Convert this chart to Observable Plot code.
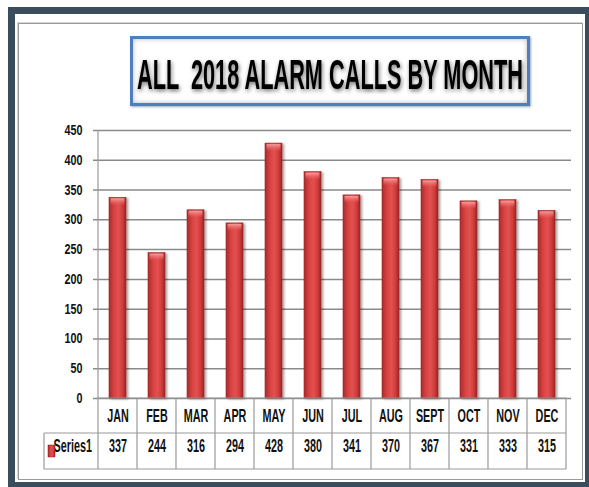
<!DOCTYPE html>
<html>
<head>
<meta charset="utf-8">
<script src="https://cdn.jsdelivr.net/npm/d3@7"></script>
<script src="https://cdn.jsdelivr.net/npm/@observablehq/plot@0.6"></script>
<style>
  html, body { margin: 0; padding: 0; background: #fff; }
  #wrap { position: relative; width: 589px; height: 487px; overflow: hidden; background: #fff; }
  #chart { position: absolute; left: 0; top: 0; }
  #frame { position: absolute; left: 8px; top: 7px; width: 584px; height: 482px; box-sizing: border-box;
           border: 7px solid #3b4c5c; pointer-events: none; }
  #inner { position: absolute; left: 18px; top: 23px; width: 565px; height: 457px; box-sizing: border-box;
           border: 1px solid #9a9a9a; box-shadow: -1px -1px 0 #d6d6d6; pointer-events: none; }
  #titlebox { position: absolute; left: 130px; top: 36px; width: 400px; height: 70px; box-sizing: border-box;
              border: 3px solid #4f7fbd; box-shadow: inset 0 0 5px #b8b8b8, 1px 1px 2px #9ab; background: #fff; }
  #titlebox svg { position: absolute; left: 0; top: 0; }
</style>
</head>
<body>
<div id="wrap">
  <div id="chart"></div>
  <div id="inner"></div>
  <div id="frame"></div>
  <div id="titlebox"></div>
</div>
<script>
const titleText = "ALL  2018 ALARM CALLS BY MONTH";
const months = ["JAN", "FEB", "MAR", "APR", "MAY", "JUN", "JUL", "AUG", "SEPT", "OCT", "NOV", "DEC"];
const calls = [337, 244, 316, 294, 428, 380, 341, 370, 367, 331, 333, 315];
const yTicks = [0, 50, 100, 150, 200, 250, 300, 350, 400, 450];
const seriesName = "Series1";

const data = months.map((m, i) => ({month: m, value: calls[i]}));

const plot = Plot.plot({
  width: 589,
  height: 487,
  marginTop: 130,
  marginRight: 18,
  marginBottom: 89,
  marginLeft: 93,
  style: {background: "transparent", fontFamily: "'Liberation Sans', Arial, sans-serif", fontWeight: "bold", fontSize: "15px", color: "#111"},
  x: {domain: months, paddingInner: 0.57, paddingOuter: 0.285, label: null},
  y: {domain: [0, 450], label: null},
  marks: [
    Plot.gridY(yTicks, {stroke: "#8a8a8a", strokeOpacity: 1, strokeWidth: 1.5}),
    Plot.barY(data, {x: "month", y: "value", fill: "url(#barGrad)", stroke: "#9e2726", strokeWidth: 0.6}),
    Plot.barY(data, {x: "month", y1: d => d.value - 14, y2: "value", insetLeft: 1.5, insetRight: 1.5, insetTop: 1, fill: "url(#capGrad)"}),
    Plot.axisY(yTicks, {tickSize: 0, tickPadding: 11, fontSize: 14, label: null}),
    Plot.axisX({tickSize: 0, tickPadding: 11, fontSize: 18, label: null}),
    Plot.text(data, {x: "month", text: d => String(d.value), frameAnchor: "bottom", dy: 53, fontSize: 18}),
    Plot.text([seriesName], {text: d => d, frameAnchor: "bottom-left", dx: -40, dy: 53, textAnchor: "start", fontSize: 18})
  ]
});
document.getElementById("chart").appendChild(plot);

const svg = d3.select(plot);
svg.insert("defs", ":first-child").html(`
  <linearGradient id="barGrad" x1="0" x2="1" y1="0" y2="0">
    <stop offset="0" stop-color="#a92a29"/>
    <stop offset="0.3" stop-color="#d84241"/>
    <stop offset="0.55" stop-color="#e35151"/>
    <stop offset="0.8" stop-color="#d03b3a"/>
    <stop offset="1" stop-color="#9c2322"/>
  </linearGradient>
  <linearGradient id="capGrad" x1="0" x2="0" y1="0" y2="1">
    <stop offset="0" stop-color="#f7a3a3" stop-opacity="0.95"/>
    <stop offset="0.6" stop-color="#ec7070" stop-opacity="0.5"/>
    <stop offset="1" stop-color="#e35151" stop-opacity="0"/>
  </linearGradient>
  <filter id="shadow" x="-30%" y="-5%" width="170%" height="115%">
    <feDropShadow dx="2" dy="1" stdDeviation="1.2" flood-color="#000" flood-opacity="0.35"/>
  </filter>`);

// narrow the bold text like a condensed face (keeps positions, adjusts glyph width)
plot.querySelectorAll("text").forEach(t => {
  const fs = parseFloat(getComputedStyle(t).fontSize);
  const k = fs >= 17 ? 0.6 : 0.77;
  const len = t.getComputedTextLength();
  if (len > 0) {
    t.setAttribute("textLength", (len * k).toFixed(2));
    t.setAttribute("lengthAdjust", "spacingAndGlyphs");
  }
});

// bar shadow
svg.select("g[aria-label='bar']").attr("filter", "url(#shadow)");

// table grid and legend swatch from the scales
const X = plot.scale("x"), Y = plot.scale("y");
const step = X.step, bw = X.bandwidth;
const y0 = Y.apply(0), yTop = Y.apply(450);
const row1 = y0 + 35, row2 = y0 + 71;
const colLeft = X.apply(months[0]) - (step - bw) / 2;
const colRight = X.apply(months[months.length - 1]) + bw + (step - bw) / 2;
const labelLeft = colLeft - 54;
const g = svg.append("g").attr("stroke", "#9a9a9a").attr("stroke-width", 1.2);
g.append("line").attr("x1", colLeft).attr("x2", colLeft).attr("y1", yTop).attr("y2", row2);
months.forEach(m => {
  const xb = X.apply(m) + bw + (step - bw) / 2;
  g.append("line").attr("x1", xb).attr("x2", xb).attr("y1", y0).attr("y2", row2);
});
g.append("line").attr("x1", colLeft).attr("x2", colRight).attr("y1", y0).attr("y2", y0);
g.append("line").attr("x1", labelLeft).attr("x2", colRight).attr("y1", row1).attr("y2", row1);
g.append("line").attr("x1", labelLeft).attr("x2", colRight).attr("y1", row2).attr("y2", row2);
g.append("line").attr("x1", labelLeft).attr("x2", labelLeft).attr("y1", row1).attr("y2", row2);
svg.append("rect").attr("x", labelLeft + 4).attr("y", row1 + 12).attr("width", 7).attr("height", 12)
  .attr("fill", "url(#barGrad)").attr("stroke", "#8a1f1f").attr("stroke-width", 0.5);

// title
const tb = d3.select("#titlebox").append("svg").attr("width", 394).attr("height", 64);
tb.append("text").attr("x", 4).attr("y", 50).attr("textLength", 386).attr("lengthAdjust", "spacingAndGlyphs")
  .attr("font-family", "'Liberation Sans', Arial, sans-serif").attr("font-weight", "bold").attr("font-size", 42)
  .attr("fill", "#000").style("filter", "drop-shadow(1px 2px 2px rgba(0,0,0,0.55))")
  .style("white-space", "pre").text(titleText);
</script>
</body>
</html>
